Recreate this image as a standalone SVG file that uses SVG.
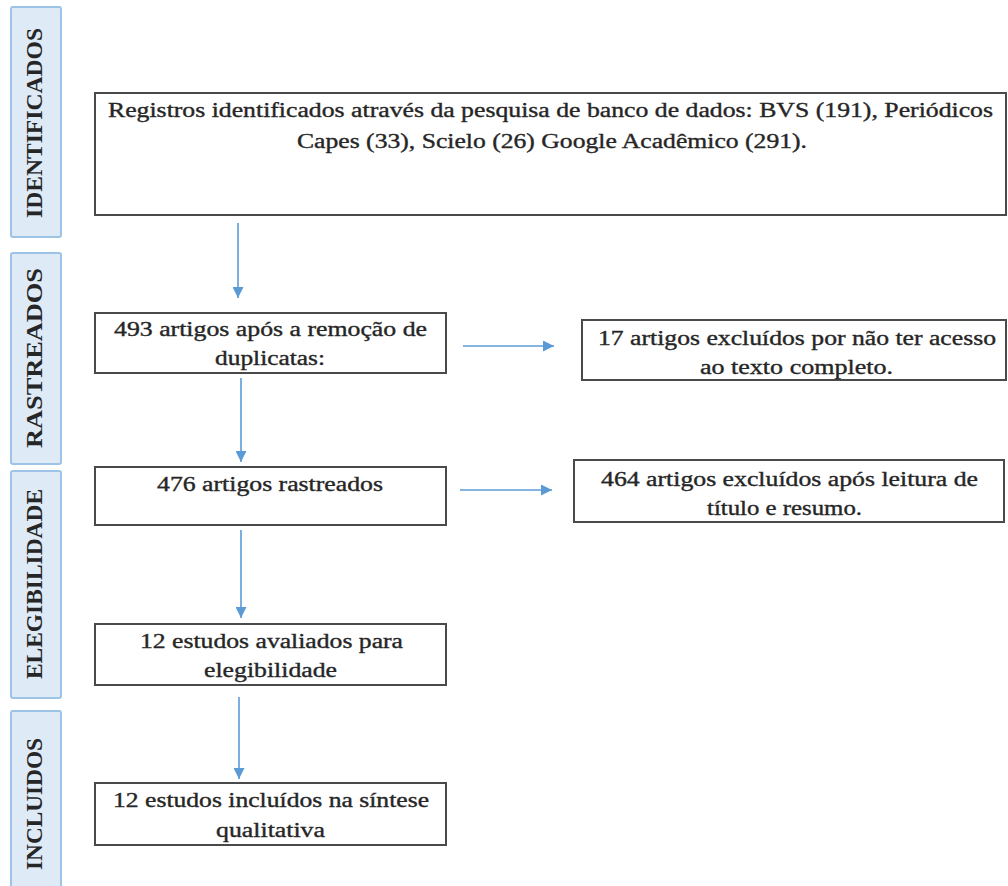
<svg xmlns="http://www.w3.org/2000/svg" width="1008" height="886" viewBox="0 0 1008 886">
<defs>
<style>
.side{fill:#DEEBF7;stroke:#9DC3E6;stroke-width:2}
.stxt{font-family:"Liberation Serif","Times New Roman",serif;font-weight:bold;font-size:24px;fill:#262626;text-anchor:middle}
.box{fill:#ffffff;stroke:#4a4a4a;stroke-width:2}
.txt{font-family:"Liberation Serif","Times New Roman",serif;font-size:20px;fill:#262626;stroke:#262626;stroke-width:0.35}
.conn{stroke:#5B9BD5;stroke-width:1.6;fill:none}
</style>
<marker id="ah" viewBox="0 0 10 10" refX="10" refY="5" markerWidth="11" markerHeight="11" markerUnits="userSpaceOnUse" orient="auto">
<path d="M0,0 L10,5 L0,10 Z" fill="#5B9BD5"/>
</marker>
</defs>
<rect width="1008" height="886" fill="#ffffff"/>

<g id="stage-identificados">
<rect class="side" x="11" y="7" width="50" height="230" rx="2"/>
<text class="stxt" transform="translate(42,123) rotate(-90)" textLength="190" lengthAdjust="spacingAndGlyphs">IDENTIFICADOS</text>
</g>
<g id="stage-rastreados">
<rect class="side" x="11" y="253" width="50" height="211" rx="2"/>
<text class="stxt" transform="translate(42,358) rotate(-90)" textLength="180" lengthAdjust="spacingAndGlyphs">RASTREADOS</text>
</g>
<g id="stage-elegibilidade">
<rect class="side" x="11" y="471" width="50" height="227" rx="2"/>
<text class="stxt" transform="translate(42,584) rotate(-90)" textLength="190" lengthAdjust="spacingAndGlyphs">ELEGIBILIDADE</text>
</g>
<g id="stage-incluidos">
<rect class="side" x="11" y="711" width="50" height="185" rx="2"/>
<text class="stxt" transform="translate(42,804) rotate(-90)" textLength="132" lengthAdjust="spacingAndGlyphs">INCLUIDOS</text>
</g>

<g id="n-registros">
<rect class="box" x="95" y="93" width="911" height="122"/>
<text class="txt" x="108" y="117" textLength="885" lengthAdjust="spacingAndGlyphs">Registros identificados através da pesquisa de banco de dados: BVS (191), Periódicos</text>
<text class="txt" x="297" y="148" textLength="510" lengthAdjust="spacingAndGlyphs">Capes (33), Scielo (26) Google Acadêmico (291).</text>
</g>

<g id="n-duplicatas">
<rect class="box" x="95" y="313" width="351" height="60"/>
<text class="txt" x="114" y="336" textLength="313" lengthAdjust="spacingAndGlyphs">493 artigos após a remoção de</text>
<text class="txt" x="215" y="365" textLength="110" lengthAdjust="spacingAndGlyphs">duplicatas:</text>
</g>

<g id="n-excluidos-acesso">
<rect class="box" x="582" y="320" width="424" height="60"/>
<text class="txt" x="598" y="345" textLength="398" lengthAdjust="spacingAndGlyphs">17 artigos excluídos por não ter acesso</text>
<text class="txt" x="700" y="374" textLength="193" lengthAdjust="spacingAndGlyphs">ao texto completo.</text>
</g>

<g id="n-rastreados">
<rect class="box" x="95" y="467" width="351" height="58"/>
<text class="txt" x="157" y="491" textLength="226" lengthAdjust="spacingAndGlyphs">476 artigos rastreados</text>
</g>

<g id="n-excluidos-titulo">
<rect class="box" x="574" y="460" width="430" height="62"/>
<text class="txt" x="601" y="486" textLength="377" lengthAdjust="spacingAndGlyphs">464 artigos excluídos após leitura de</text>
<text class="txt" x="707" y="515" textLength="155" lengthAdjust="spacingAndGlyphs">título e resumo.</text>
</g>

<g id="n-elegibilidade">
<rect class="box" x="95" y="624" width="351" height="61"/>
<text class="txt" x="140" y="648" textLength="263" lengthAdjust="spacingAndGlyphs">12 estudos avaliados para</text>
<text class="txt" x="204" y="677" textLength="133" lengthAdjust="spacingAndGlyphs">elegibilidade</text>
</g>

<g id="n-incluidos">
<rect class="box" x="95" y="783" width="351" height="62"/>
<text class="txt" x="113" y="807" textLength="316" lengthAdjust="spacingAndGlyphs">12 estudos incluídos na síntese</text>
<text class="txt" x="216" y="837" textLength="109" lengthAdjust="spacingAndGlyphs">qualitativa</text>
</g>

<g id="connectors">
<line class="conn" x1="238" y1="223" x2="238" y2="298" marker-end="url(#ah)"/>
<line class="conn" x1="241" y1="378" x2="241" y2="462" marker-end="url(#ah)"/>
<line class="conn" x1="241" y1="530" x2="241" y2="618" marker-end="url(#ah)"/>
<line class="conn" x1="239" y1="697" x2="239" y2="779" marker-end="url(#ah)"/>
<line class="conn" x1="463" y1="346" x2="554" y2="346" marker-end="url(#ah)"/>
<line class="conn" x1="460" y1="490" x2="552" y2="490" marker-end="url(#ah)"/>
</g>
</svg>
